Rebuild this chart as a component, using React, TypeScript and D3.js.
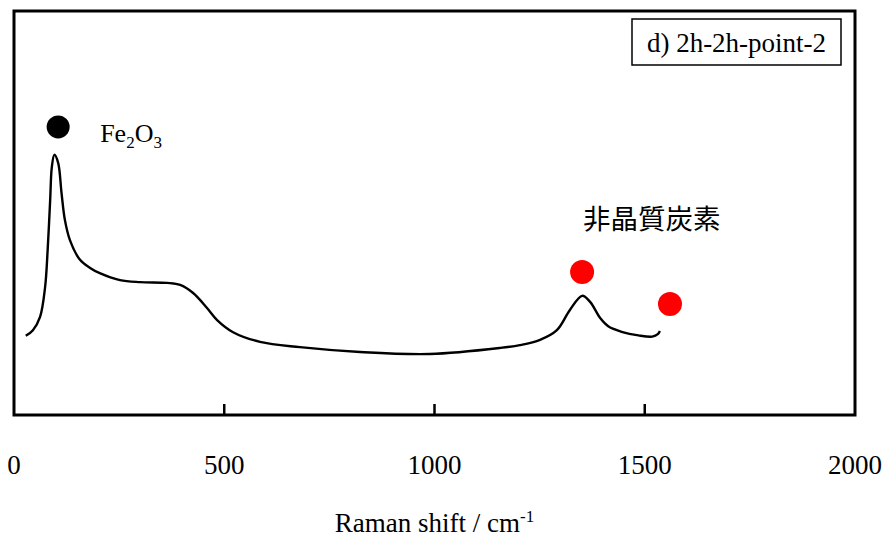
import * as d3 from "d3";
import React, { useRef, useEffect } from "react";

// Raman spectrum (x in cm-1, y in arbitrary units 0..100)
const shift = [28, 45, 62, 74, 80, 86, 90, 96, 105, 113, 121, 133, 157, 181, 204, 252, 300, 364, 395, 426, 459, 483, 521, 585, 680, 823, 989, 1156, 1203, 1251, 1291, 1322, 1351, 1370, 1394, 1414, 1445, 1485, 1518, 1531, 1536];
const intensity = [19.6, 21, 24.3, 31.7, 40.8, 53.2, 61.4, 64.4, 62.4, 55, 48.3, 43.3, 38.4, 36.4, 35.1, 33.4, 32.9, 32.7, 32.2, 30.2, 26.5, 23.5, 20.5, 18.1, 16.8, 15.6, 15.1, 16.6, 17.3, 18.6, 21, 26, 29.5, 28, 24, 21.9, 20.6, 19.7, 19.4, 20, 20.8];

const xTicks = [0, 500, 1000, 1500, 2000];

// peak markers
const markerShift = [105, 1351, 1560];
const markerIntensity = [71.3, 35.4, 27.5];
const markerColor = ["#000000", "#ff0000", "#ff0000"];

const legendText = "d) 2h-2h-point-2";
const carbonLabel = "非晶質炭素";

const serif = '"Liberation Serif", "Times New Roman", serif';

const App: React.FC = () => {
  const svgRef = useRef<SVGSVGElement | null>(null);

  useEffect(() => {
    const width = 887;
    const height = 539;
    const l = 14, r = 32, t = 11, b = 124;

    const svg = d3.select(svgRef.current).attr("width", width).attr("height", height);
    svg.selectAll("*").remove();

    svg.append("rect").attr("width", width).attr("height", height).attr("fill", "#fff");

    const x = d3.scaleLinear().domain([0, 2000]).range([l, width - r]);
    const y = d3.scaleLinear().domain([0, 100]).range([height - b, t]);

    // spectrum
    const line = d3.line<number>()
      .x((_, i) => x(shift[i]))
      .y(d => y(d))
      .curve(d3.curveCatmullRom.alpha(0.5));

    svg.append("path")
      .attr("d", line(intensity))
      .attr("fill", "none")
      .attr("stroke", "#000")
      .attr("stroke-width", 2.4);

    // ticks inside the frame
    const axis = svg.append("g").attr("transform", `translate(0,${height - b})`);
    axis.selectAll("line")
      .data(xTicks.slice(1, -1))
      .enter()
      .append("line")
      .attr("x1", d => x(d))
      .attr("x2", d => x(d))
      .attr("y1", 0)
      .attr("y2", -11)
      .attr("stroke", "#000")
      .attr("stroke-width", 2.5);

    axis.selectAll("text")
      .data(xTicks)
      .enter()
      .append("text")
      .attr("x", d => x(d))
      .attr("y", 59)
      .attr("text-anchor", "middle")
      .style("font-family", serif)
      .style("font-size", "27px")
      .attr("fill", "#000")
      .text(d => d);

    // frame
    svg.append("rect")
      .attr("x", l)
      .attr("y", t)
      .attr("width", width - l - r)
      .attr("height", height - t - b)
      .attr("fill", "none")
      .attr("stroke", "#000")
      .attr("stroke-width", 3);

    // axis title
    const title = svg.append("text")
      .attr("x", (l + width - r) / 2)
      .attr("y", 532)
      .attr("text-anchor", "middle")
      .style("font-family", serif)
      .style("font-size", "27px")
      .attr("fill", "#000");
    title.append("tspan").text("Raman shift / cm");
    title.append("tspan").attr("dy", -10).style("font-size", "17px").text("-1");

    // legend box
    svg.append("rect")
      .attr("x", 632)
      .attr("y", 19)
      .attr("width", 209)
      .attr("height", 46)
      .attr("fill", "#fff")
      .attr("stroke", "#000")
      .attr("stroke-width", 1.5);
    svg.append("text")
      .attr("x", 736.5)
      .attr("y", 52)
      .attr("text-anchor", "middle")
      .style("font-family", serif)
      .style("font-size", "27px")
      .attr("fill", "#000")
      .text(legendText);

    // markers
    svg.selectAll("circle.marker")
      .data(markerShift)
      .enter()
      .append("circle")
      .attr("class", "marker")
      .attr("cx", d => x(d))
      .attr("cy", (_, i) => y(markerIntensity[i]))
      .attr("r", (_, i) => (i === 0 ? 11.5 : 12))
      .attr("fill", (_, i) => markerColor[i]);

    // Fe2O3 label
    const fe = svg.append("text")
      .attr("x", x(markerShift[0]) + 42)
      .attr("y", 142)
      .style("font-family", serif)
      .style("font-size", "26px")
      .attr("fill", "#000");
    fe.append("tspan").text("Fe");
    fe.append("tspan").attr("dy", 6).style("font-size", "17px").text("2");
    fe.append("tspan").attr("dy", -6).text("O");
    fe.append("tspan").attr("dy", 6).style("font-size", "17px").text("3");

    // amorphous carbon label
    svg.append("text")
      .attr("x", x(markerShift[1]) + 1)
      .attr("y", 229)
      .style("font-family", '"Noto Sans CJK JP", sans-serif')
      .style("font-size", "27.5px")
      .attr("fill", "#000")
      .text(carbonLabel);
  }, []);

  return (
    <svg ref={svgRef} style={{ position: "absolute", left: 0, top: 0 }}></svg>
  );
};

export default App;
